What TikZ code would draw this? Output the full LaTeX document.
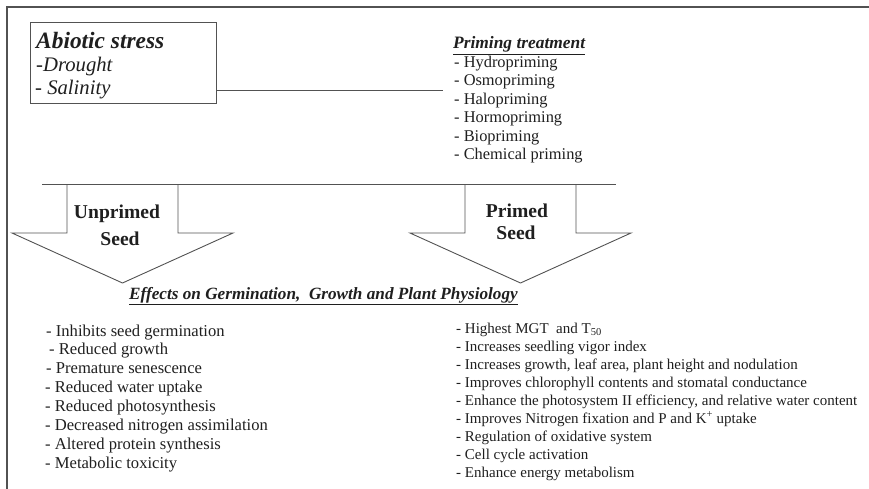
\documentclass[tikz,border=0pt]{standalone}
\usepackage{fontspec}
\setmainfont{Liberation Serif}
\usetikzlibrary{arrows}

\begin{document}
\begin{tikzpicture}[x=1pt,y=-1pt,
  line/.style={draw=black!68,line width=0.9pt},
  txt/.style={anchor=base west,inner sep=0pt,text=black!88},
  lst/.style={txt,font=\fontsize{16.6}{18}\selectfont},
  seedlab/.style={anchor=base,inner sep=0pt,text=black!88,font=\fontsize{19.6}{22}\selectfont\bfseries}]
\useasboundingbox (0,0) rectangle (869,489);
\draw[line,line width=1.5pt] (7,489) -- (7,7) -- (869,7);
% stress box
\node[line,anchor=north west,minimum width=186,minimum height=81,inner sep=0pt] (abiotic) at (30,22) {};
\node[txt,font=\fontsize{23.4}{26}\selectfont\bfseries\itshape] (stress) at (36,49) {Abiotic stress};
\node[txt,font=\fontsize{20.7}{24}\selectfont\itshape] (drought) at (36,72) {-Drought};
\node[txt,font=\fontsize{20.7}{24}\selectfont\itshape] (salinity) at (35,95) {- Salinity};
% priming
\node[txt,font=\fontsize{17.4}{20}\selectfont\bfseries\itshape] (treatment) at (453,49) {\underline{Priming treatment}};
\foreach \t [count=\i] in {Hydropriming,Osmopriming,Halopriming,Hormopriming,Biopriming,Chemical priming}
  \node[lst,font=\fontsize{16.4}{18}\selectfont] (treat\i) at (454,{49+18.5*\i}) {- \t};
\coordinate (treat in) at (443,90);
\draw[line] (abiotic.east |- treat in) -- (treat in);
% seed arrows
\coordinate (split w) at (42,184);
\coordinate (split e) at (616,184);
\draw[line] (split w) -- (split e);
\foreach \cx in {122.5,520.5}
  \draw[line] ({\cx-55.5},184) -- ({\cx-55.5},233) -- ({\cx-110.5},233) -- (\cx,283) -- ({\cx+110.5},233) -- ({\cx+55.5},233) -- ({\cx+55.5},184);
\node[seedlab] (unprimed) at (117,218) {Unprimed};
\node[seedlab] (unprimed seed) at (120,245) {Seed};
\node[seedlab] (primed) at (517,217) {Primed};
\node[seedlab] (primed seed) at (516,239) {Seed};
% effects
\node[txt,font=\fontsize{17.2}{20}\selectfont\bfseries\itshape] (effects) at (129,299) {\underline{Effects on Germination,\ \ Growth and Plant Physiology}};
\foreach \x/\t [count=\i] in {46/Inhibits seed germination,49/Reduced growth,46/Premature senescence,45/Reduced water uptake,45/Reduced photosynthesis,45/Decreased nitrogen assimilation,45/Altered protein synthesis,45/Metabolic toxicity}
  \node[lst] (unprimed\i) at (\x,{336+18.86*(\i-1)}) {- \t};
\foreach \t [count=\i] in {{Highest MGT~ and T\textsubscript{50}},Increases seedling vigor index,{Increases growth, leaf area, plant height and nodulation},Improves chlorophyll contents and stomatal conductance,{Enhance the photosystem II efficiency, and relative water content},Improves Nitrogen fixation and P and K\textsuperscript{+} uptake,Regulation of oxidative system,Cell cycle activation,Enhance energy metabolism}
  \node[lst,font=\fontsize{15}{18}\selectfont] (primed\i) at (456,{333+18*(\i-1)}) {- \t};
\end{tikzpicture}
\end{document}
